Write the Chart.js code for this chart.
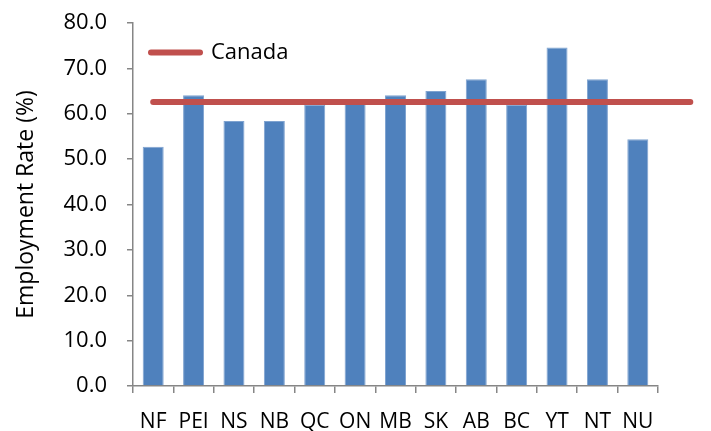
<!DOCTYPE html>
<html><head><meta charset="utf-8">
<script src="https://cdn.jsdelivr.net/npm/chart.js@4"></script>
<style>html,body{margin:0;padding:0;background:#fff}</style>
</head><body>
<canvas id="c" width="711" height="431"></canvas>
<script>
const provinces = ['NF','PEI','NS','NB','QC','ON','MB','SK','AB','BC','YT','NT','NU'];
const employmentRate = [52.7, 64.1, 58.4, 58.4, 62.0, 62.2, 64.1, 65.0, 67.6, 62.0, 74.6, 67.6, 54.4];
const canadaRate = 62.6;
const canadaSpan = [0, 13.3];
const yTicks = [0, 10, 20, 30, 40, 50, 60, 70, 80];

const FONT = '"Open Sans", sans-serif';
new Chart(document.getElementById('c'), {
  type: 'bar',
  data: {
    datasets: [
      { type: 'bar', label: 'Rate', data: employmentRate.map((v, i) => ({ x: i, y: v })),
        backgroundColor: '#4F81BD', borderColor: '#7FA3D0', borderWidth: 1,
        barPercentage: 0.52, categoryPercentage: 1, order: 2 },
      { type: 'line', label: 'Canada', data: canadaSpan.map(v => ({ x: v, y: canadaRate })),
        borderColor: '#C0504D', backgroundColor: '#C0504D', borderWidth: 6, borderCapStyle: 'round',
        pointRadius: 0, clip: false, order: 1 }
    ]
  },
  options: {
    responsive: false, animation: false,
    layout: { padding: { top: 23, right: 53, left: 0, bottom: 0 } },
    plugins: {
      tooltip: { enabled: false },
      legend: {
        position: 'chartArea', align: 'start',
        title: { display: true, text: ' ', font: { size: 10 }, padding: { top: 11.5, bottom: 0 } },
        labels: {
          usePointStyle: true, pointStyle: 'line', pointStyleWidth: 49,
          boxHeight: 6, color: '#000', font: { family: FONT, size: 22 }, padding: 18,
          generateLabels: chart => [{ text: 'Canada', strokeStyle: '#C0504D', fillStyle: '#C0504D',
            fontColor: '#000', lineWidth: 6, lineCap: 'round', pointStyle: 'line', datasetIndex: 1 }]
        }
      }
    },
    scales: {
      x: {
        type: 'linear', min: -0.5, max: provinces.length - 0.5, offset: false,
        afterBuildTicks: s => { s.ticks = provinces.map((p, i) => ({ value: i })); },
        grid: { display: true, drawOnChartArea: false, offset: true, tickLength: 7, color: '#868686', lineWidth: 1.5 },
        border: { color: '#868686', width: 1.5 },
        ticks: { color: '#000', font: { family: FONT, size: 21 }, padding: 16, maxRotation: 0,
          autoSkip: false, callback: v => provinces[v] },
        afterFit: s => { s.height = 45; s.paddingLeft = 0; s.paddingRight = 0; s.paddingTop = 0; s.paddingBottom = 0; }
      },
      y: {
        min: 0, max: 80,
        afterBuildTicks: s => { s.ticks = yTicks.map(v => ({ value: v })); },
        grid: { display: true, drawOnChartArea: false, tickLength: 6, color: '#868686', lineWidth: 1.5 },
        border: { color: '#868686', width: 1.5 },
        ticks: { color: '#000', font: { family: FONT, size: 22 }, padding: 20,
          callback: v => v.toFixed(1) },
        title: { display: true, text: 'Employment Rate (%)', color: '#000',
          font: { family: FONT, size: 23 }, padding: { top: 13, bottom: 0 } },
        afterFit: s => { s.width = 133; s.paddingTop = 0; s.paddingBottom = 0; s.paddingLeft = 0; s.paddingRight = 0; }
      }
    }
  }
});
</script>
</body></html>
